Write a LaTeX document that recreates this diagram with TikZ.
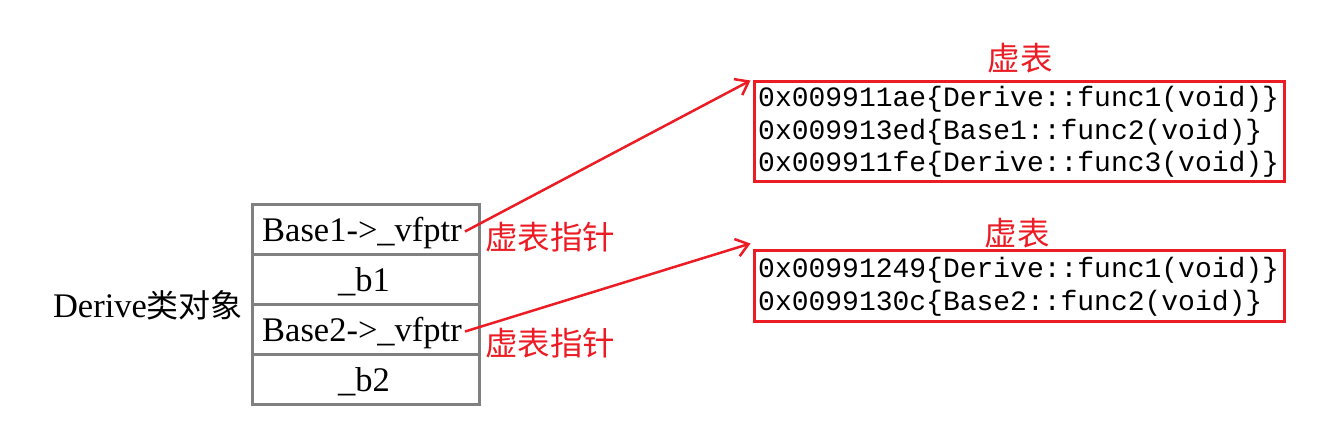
\documentclass[tikz,border=0pt]{standalone}
\usepackage{fontspec}
\setmainfont{Liberation Serif}
\newfontfamily\cjk{Noto Sans CJK SC}
\newfontfamily\mono{Liberation Mono}
\usetikzlibrary{arrows.meta}
\definecolor{cred}{RGB}{236,28,36}
\definecolor{cgray}{RGB}{128,128,128}
\begin{document}
\begin{tikzpicture}[x=1pt,y=-1pt,
  cell/.style={draw=cgray,line width=3pt,minimum width=227pt,minimum height=50pt,inner sep=0pt},
  celltext/.style={inner sep=0pt,anchor=base,font=\fontsize{34.5}{38}\selectfont},
  vtbox/.style={draw=cred,line width=3pt,inner sep=0pt},
  vttext/.style={anchor=west,align=left,inner sep=0pt,font=\mono\fontsize{28}{32.5}\selectfont},
  redlab/.style={text=cred,inner sep=0pt,font=\cjk\fontsize{32.5}{35}\selectfont},
  ptr/.style={draw=cred,line width=2.5pt,-{Straight Barb[length=12pt,width=18pt,line width=2.5pt]}}]
\useasboundingbox (0,0) rectangle (1341,428);
% object cells
\node[cell] (r1) at (366,229) {};
\node[cell] (r2) at (366,279) {};
\node[cell] (r3) at (366,329) {};
\node[cell] (r4) at (366,379) {};
\node[celltext] (t1) at (362,241) {Base1->\_vfptr};
\node[celltext] (t2) at (364,291) {\_b1};
\node[celltext] (t3) at (362,341) {Base2->\_vfptr};
\node[celltext] (t4) at (364,391) {\_b2};
\node[inner sep=0pt,anchor=base] (obj) at (148,317) {\fontsize{34.5}{38}\selectfont Derive{\cjk\fontsize{32}{34}\selectfont 类对象}};
% labels
\node[redlab] (l1) at (550,237) {虚表指针};
\node[redlab] (l2) at (550,343) {虚表指针};
\node[redlab] (h1) at (1020,58) {虚表};
\node[redlab] (h2) at (1017,233) {虚表};
% vtables
\node[vtbox,minimum width=530pt,minimum height=100pt] (vt1) at (1019,131) {};
\node[vttext] (vt1t) at (758,132) {0x009911ae\{Derive::func1(void)\}\\0x009913ed\{Base1::func2(void)\}\\0x009911fe\{Derive::func3(void)\}};
\node[vtbox,minimum width=530pt,minimum height=71pt] (vt2) at (1019,285.5) {};
\node[vttext] (vt2t) at (758,287) {0x00991249\{Derive::func1(void)\}\\0x0099130c\{Base2::func2(void)\}};
% pointers
\draw[ptr] ([xshift=3pt,yshift=1pt]t1.east) -- ([xshift=-2pt,yshift=-1pt]vt1.north west);
\draw[ptr] ([xshift=3pt,yshift=1pt]t3.east) -- ([xshift=-2pt,yshift=5pt]vt2.north west);
\end{tikzpicture}
\end{document}
